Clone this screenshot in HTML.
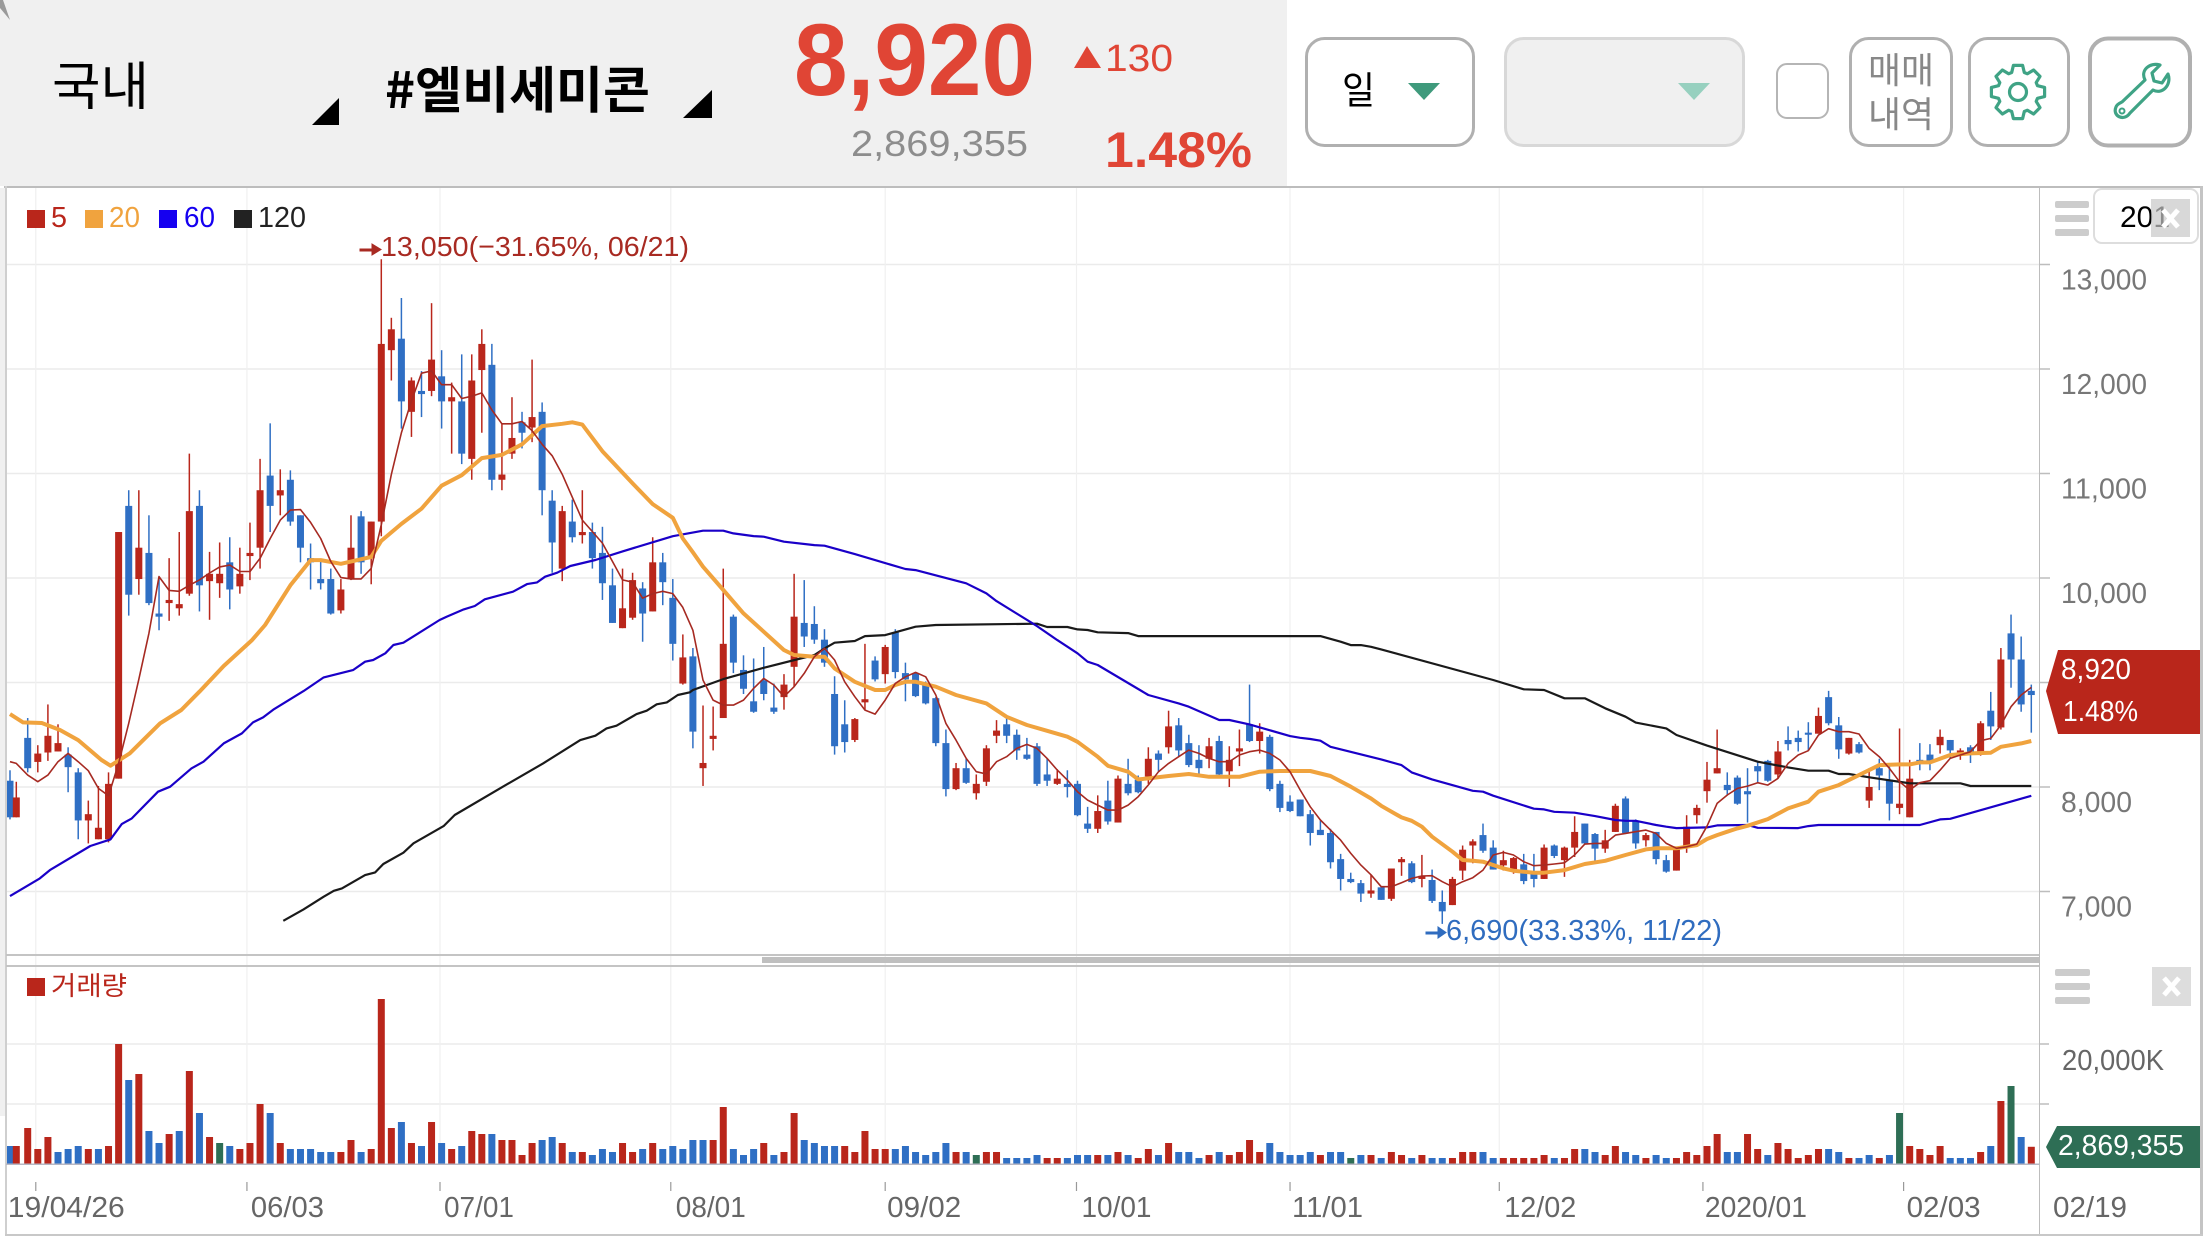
<!DOCTYPE html>
<html lang="ko">
<head>
<meta charset="utf-8">
<title>엘비세미콘 일봉 차트</title>
<style>
html,body{margin:0;padding:0;background:#fff;width:2208px;height:1242px;overflow:hidden}
svg{display:block;position:absolute;left:0;top:0}
text{font-family:"Liberation Sans","Noto Sans CJK KR",sans-serif}
.kr{font-family:"Noto Sans CJK KR","Liberation Sans",sans-serif}
</style>
</head>
<body>
<svg id="stage" xmlns="http://www.w3.org/2000/svg" width="2208" height="1242" viewBox="0 0 2208 1242">
  <rect x="0" y="0" width="2208" height="1242" fill="#ffffff"/>
  <rect x="0" y="0" width="1287" height="186" fill="#f0f0f0"/>
  <polygon points="0,0 3,0 10,20 0,8" fill="#9a9a9a"/>
  <rect x="0" y="188" width="5" height="928" fill="#f0f0f0"/>

  <text class="kr" x="52" y="105" font-size="52" fill="#000" textLength="97" lengthAdjust="spacingAndGlyphs">국내</text>
  <polygon points="339,98 339,125 312,125" fill="#000"/>
  <text class="kr" x="385" y="108" font-size="50" font-weight="700" fill="#000" textLength="265" lengthAdjust="spacingAndGlyphs">#엘비세미콘</text>
  <polygon points="712,90 712,118 683,118" fill="#000"/>
  <text x="794" y="95" font-size="102" font-weight="700" fill="#e04535" textLength="241" lengthAdjust="spacingAndGlyphs">8,920</text>
  <polygon points="1087,46 1101,68 1074,68" fill="#e04535"/>
  <text x="1105" y="71" font-size="38" fill="#e04535" textLength="68" lengthAdjust="spacingAndGlyphs">130</text>
  <text x="851" y="156" font-size="36" fill="#8d8d8d" textLength="177" lengthAdjust="spacingAndGlyphs">2,869,355</text>
  <text x="1105" y="167" font-size="50" font-weight="700" fill="#e04535" textLength="147" lengthAdjust="spacingAndGlyphs">1.48%</text>

  <rect x="1306.5" y="38.5" width="167" height="107" rx="18" fill="#fff" stroke="#b0b0b0" stroke-width="3"/>
  <text class="kr" x="1342" y="104" font-size="38" fill="#000" textLength="33" lengthAdjust="spacingAndGlyphs">일</text>
  <polygon points="1408,83 1440,83 1424,100" fill="#3f9a7c"/>
  <rect x="1505.5" y="38.5" width="238" height="107" rx="18" fill="#f0f0f0" stroke="#d8d8d8" stroke-width="3"/>
  <polygon points="1678,83 1710,83 1694,100" fill="#97d0bf"/>
  <rect x="1777" y="64" width="51" height="54" rx="10" fill="#fff" stroke="#b5b5b5" stroke-width="2"/>
  <rect x="1850.5" y="38.5" width="101" height="107" rx="18" fill="#fff" stroke="#b0b0b0" stroke-width="3"/>
  <text class="kr" x="1868" y="83" font-size="36" fill="#888" textLength="66" lengthAdjust="spacingAndGlyphs">매매</text>
  <text class="kr" x="1868" y="127" font-size="36" fill="#888" textLength="66" lengthAdjust="spacingAndGlyphs">내역</text>
  <rect x="1969.5" y="38.5" width="99" height="107" rx="18" fill="#fff" stroke="#b0b0b0" stroke-width="3"/>
  <path id="gear" fill="none" stroke="#3fa385" stroke-width="3.2" stroke-linejoin="round"/>
  <circle cx="2018" cy="92" r="8.5" fill="none" stroke="#3fa385" stroke-width="3.2"/>
  <rect x="2090" y="38.5" width="100" height="107" rx="18" fill="#fff" stroke="#b0b0b0" stroke-width="4"/>
  <path d="M2122,102 L2145,80 C2140,70 2150,62 2160,65 L2152,73 L2154,81 L2162,83 L2168,74 C2172,85 2162,95 2153,90 L2130,113 C2124,122 2112,116 2116,107 C2117,104 2120,103 2122,102 Z" fill="none" stroke="#3fa385" stroke-width="3.2" stroke-linejoin="round"/>
  <circle cx="2122" cy="111" r="2.5" fill="none" stroke="#3fa385" stroke-width="2"/>

  <g id="grid"></g>
  <g id="candles"></g>
  <polyline id="line120" fill="none" stroke="#1a1a1a" stroke-width="2.2" stroke-linejoin="round"/>
  <polyline id="line60" fill="none" stroke="#1a00c8" stroke-width="2.2" stroke-linejoin="round"/>
  <polyline id="line20" fill="none" stroke="#f0a33e" stroke-width="4" stroke-linejoin="round"/>
  <polyline id="line5" fill="none" stroke="#a62a22" stroke-width="1.6" stroke-linejoin="round"/>
  <g id="volumes"></g>

  <rect x="4" y="186" width="2198" height="2" fill="#bdbdbd"/>
  <rect x="5" y="186" width="2" height="1050" fill="#cfcfcf"/>
  <rect x="2200" y="186" width="3" height="1050" fill="#c4c4c4"/>
  <rect x="5" y="1234" width="2198" height="2" fill="#c8c8c8"/>
  <rect x="2039" y="188" width="1" height="1046" fill="#bdbdbd"/>
  <rect x="6" y="954" width="2033" height="2" fill="#c4c4c4"/>
  <rect x="6" y="965" width="2033" height="2" fill="#c4c4c4"/>
  <rect x="6" y="1163.5" width="2033" height="1.5" fill="#b8b8c4"/>
  <rect x="762" y="957" width="1277" height="6" fill="#bfbfbf"/>

  <g>
    <rect x="27" y="210" width="18" height="18" fill="#b9261b"/>
    <text x="51" y="227" font-size="29" fill="#b9261b" textLength="16" lengthAdjust="spacingAndGlyphs">5</text>
    <rect x="85" y="210" width="18" height="18" fill="#f0a33e"/>
    <text x="109" y="227" font-size="29" fill="#f0a33e" textLength="31" lengthAdjust="spacingAndGlyphs">20</text>
    <rect x="159" y="210" width="18" height="18" fill="#1500f0"/>
    <text x="184" y="227" font-size="29" fill="#1500f0" textLength="31" lengthAdjust="spacingAndGlyphs">60</text>
    <rect x="234" y="210" width="18" height="18" fill="#222"/>
    <text x="258" y="227" font-size="29" fill="#222" textLength="48" lengthAdjust="spacingAndGlyphs">120</text>
  </g>

  <path d="M360,249 H372 V244 L381,249.5 L372,255 V251 H360 Z" fill="#a82a22" stroke="#a82a22" stroke-width="1"/>
  <text x="381" y="256" font-size="28" fill="#a82a22" textLength="308" lengthAdjust="spacingAndGlyphs">13,050(−31.65%, 06/21)</text>
  <path d="M1426,932 H1438 V927 L1446,932.5 L1438,938 V934 H1426 Z" fill="#2f6cbf" stroke="#2f6cbf" stroke-width="1"/>
  <text x="1446" y="940" font-size="29" fill="#2f6cbf" textLength="276" lengthAdjust="spacingAndGlyphs">6,690(33.33%, 11/22)</text>

  <rect x="27" y="978" width="18" height="18" fill="#b9261b"/>
  <text class="kr" x="51" y="995" font-size="26" fill="#b9261b" textLength="76" lengthAdjust="spacingAndGlyphs">거래량</text>

  <g>
    <rect x="2055" y="201" width="34" height="7" rx="2" fill="#cccccc"/>
    <rect x="2055" y="215" width="34" height="7" rx="2" fill="#cccccc"/>
    <rect x="2055" y="229" width="34" height="7" rx="2" fill="#cccccc"/>
  </g>
  <rect x="2094" y="189" width="104" height="54" rx="8" fill="#fff" stroke="#dddddd" stroke-width="2"/>
  <text x="2120" y="227" font-size="30" fill="#000" textLength="50" lengthAdjust="spacingAndGlyphs">201</text>
  <g>
    <rect x="2151" y="199" width="39" height="38" fill="#c8c8c8" fill-opacity="0.7"/>
    <path d="M2163,210 L2178,227 M2178,210 L2163,227" stroke="#fff" stroke-width="5"/>
  </g>
  <g>
    <rect x="2055" y="969" width="35" height="7" rx="2" fill="#cccccc"/>
    <rect x="2055" y="983" width="35" height="7" rx="2" fill="#cccccc"/>
    <rect x="2055" y="997" width="35" height="7" rx="2" fill="#cccccc"/>
  </g>
  <g>
    <rect x="2152" y="967" width="39" height="39" fill="#dddddd"/>
    <path d="M2164,978 L2179,995 M2179,978 L2164,995" stroke="#fff" stroke-width="5"/>
  </g>

  <polygon points="2058,650 2200,650 2200,734 2058,734 2046,691" fill="#b9261b"/>
  <text x="2061" y="679" font-size="29" fill="#fff" textLength="70" lengthAdjust="spacingAndGlyphs">8,920</text>
  <text x="2063" y="721" font-size="29" fill="#fff" textLength="75" lengthAdjust="spacingAndGlyphs">1.48%</text>
  <polygon points="2057,1126 2200,1126 2200,1168 2057,1168 2046,1147" fill="#2e6e55"/>
  <text x="2058" y="1155" font-size="29" fill="#fff" textLength="126" lengthAdjust="spacingAndGlyphs">2,869,355</text>
</svg>

<script>
var opens = [
8060,7710,8470,8240,8330,8340,8310,8140,7680,7500,
7500,8080,10690,9990,10240,9660,9760,9710,9850,10690,
9970,9950,10150,9920,10210,10290,10980,10790,10940,10600,
10190,9990,9990,9690,9990,10590,10190,10540,12180,12290,
11590,11790,11790,11930,11690,11690,11140,11990,12040,10940,
11190,11490,11440,11590,10740,10090,10540,10410,10440,10240,
9930,9520,9620,9900,9680,10150,9810,8990,9250,8180,
8460,8660,9630,9120,8820,9020,8760,8860,9150,9570,
9560,9410,8890,8600,8450,8810,9210,9080,9480,9090,
9090,8980,8850,8420,7980,8180,7940,8050,8490,8600,
8500,8310,8390,8120,8030,8030,8030,7650,7600,7870,
7660,8030,8070,8100,8320,8380,8590,8420,8260,8270,
8440,8150,8340,8600,8440,8480,8030,7860,7880,7740,
7590,7560,7310,7120,7080,6980,7040,6930,7280,7270,
7120,7110,6900,6870,7200,7440,7540,7420,7250,7210,
7260,7180,7120,7440,7300,7420,7650,7550,7410,7570,
7890,7670,7490,7570,7300,7200,7430,7730,7960,8130,
8020,8090,7960,8200,8250,8120,8450,8470,8520,8510,
8860,8590,8320,8410,7870,8180,8070,7800,7710,8260,
8310,8400,8450,8300,8380,8340,8730,8570,9470,9220,
8920];
var closes = [
7710,7900,8180,8320,8490,8420,8190,7680,7740,7610,
8030,10440,9840,10290,9760,9630,9790,9750,10640,9930,
10040,10040,9890,10040,10240,10840,10690,10840,10540,10290,
10150,9950,9660,9890,10290,10150,10540,12240,12380,11690,
11890,11760,12090,11690,11730,11190,11890,12240,10940,10990,
11340,11390,11540,10840,10340,10640,10390,10440,10190,9950,
9570,9710,9980,9660,10150,9960,9370,9240,8530,8230,
8490,9370,9190,8940,8720,8890,8720,8980,9630,9440,
9410,9190,8390,8430,8650,8840,9030,9340,9100,9030,
8870,8800,8420,7980,8180,8040,8030,8370,8540,8490,
8350,8270,8030,8060,8080,8000,7730,7600,7770,7670,
8080,7940,7950,8270,8260,8580,8350,8210,8180,8390,
8120,8260,8370,8440,8530,7980,7800,7770,7720,7560,
7540,7280,7120,7090,6980,7010,6920,7220,7310,7090,
7150,6910,6810,7120,7400,7480,7390,7210,7300,7320,
7100,7120,7420,7340,7420,7570,7460,7410,7490,7820,
7560,7460,7540,7310,7190,7400,7620,7800,8070,8180,
7970,7840,7930,8150,8060,8340,8410,8430,8500,8680,
8610,8360,8470,8330,8000,8110,7840,7840,8080,8230,
8250,8480,8350,8350,8320,8610,8580,9220,9220,8790,
8880];
var highs = [
8160,8050,8660,8400,8790,8600,8380,8180,7870,8010,
8140,10440,10840,10840,10600,10010,10190,10440,11190,10840,
10250,10340,10390,10290,10530,11140,11480,11040,11030,10600,
10330,10180,10090,9990,10600,10640,10540,13050,12490,12680,
11920,11980,12630,12180,11870,12140,12140,12380,12240,11480,
11730,11590,12090,11680,10840,10690,10750,10840,10530,10490,
10090,10090,10050,9960,10390,10240,9990,9460,9330,8780,
8770,10090,9650,9260,9230,9340,8990,9080,10040,9980,
9730,9510,9060,8830,8660,9370,9250,9360,9510,9190,
9100,9010,8860,8550,8230,8270,8120,8400,8640,8670,
8550,8470,8420,8270,8170,8160,8060,7810,7920,8060,
8110,8270,8110,8380,8350,8730,8660,8500,8400,8470,
8490,8390,8550,8980,8610,8500,8060,7920,7880,7780,
7680,7600,7360,7180,7110,7160,7040,7220,7330,7290,
7350,7210,7010,7140,7440,7500,7650,7490,7390,7330,
7360,7360,7450,7450,7430,7720,7650,7560,7590,7840,
7910,7690,7560,7570,7350,7400,7730,7830,8240,8550,
8140,8110,8180,8250,8260,8440,8580,8540,8620,8760,
8920,8670,8470,8430,8180,8270,8230,8560,8260,8420,
8410,8550,8450,8370,8400,8630,8910,9330,9650,9440,
8980];
var lows = [
7690,7710,8140,8140,8250,8340,7950,7500,7460,7500,
7470,8080,9640,9840,9740,9500,9590,9640,9830,9680,
9600,9810,9700,9850,9980,10090,10440,10600,10500,10150,
9890,9890,9650,9660,9980,10040,9940,10400,11890,11430,
11350,11540,11740,11430,11190,11090,10940,11390,10840,10840,
11140,11240,11300,10600,10050,9970,10340,10330,10090,9790,
9570,9520,9600,9390,9680,9740,9210,8980,8370,8010,
8350,8660,9090,8890,8710,8830,8700,8740,8960,9340,
9370,9150,8310,8330,8430,8740,9010,8990,9040,8820,
8860,8790,8390,7910,7970,8030,7880,8010,8420,8420,
8260,8260,8010,8010,8020,7900,7720,7560,7560,7640,
7660,7920,7940,8030,8150,8320,8290,8190,8100,8180,
8100,8000,8200,8430,8320,7960,7760,7760,7720,7440,
7540,7220,7010,7080,6900,6940,6920,6910,7150,7080,
7040,6890,6690,6870,7110,7270,7370,7210,7200,7170,
7070,7040,7120,7320,7140,7330,7450,7270,7370,7570,
7550,7410,7430,7260,7180,7200,7370,7650,7850,8130,
7920,7830,7660,8040,8050,8080,8350,8340,8350,8510,
8590,8270,8310,8320,7800,7970,7680,7740,7710,8160,
8160,8320,8270,8260,8230,8300,8450,8550,8950,8720,
8520];
var ma5 = [
8242,8226,8114,8051,8114,8242,8322,8242,8156,7987,
7917,8226,8609,9030,9470,10013,9881,9873,9930,9982,
10048,10106,10123,10062,10062,10189,10378,10554,10650,10655,
10532,10378,10158,10004,9991,9991,10092,10510,10993,11389,
11696,11960,11982,11850,11850,11718,11740,11771,11608,11476,
11476,11498,11410,11279,11169,10993,10773,10554,10444,10334,
10158,9982,9960,9807,9851,9873,9851,9719,9500,9023,
8832,8784,8784,8832,8944,9039,8976,8864,8960,9087,
9247,9326,9215,9007,8864,8736,8698,8832,8991,9055,
9097,9055,8880,8609,8449,8274,8146,8124,8242,8290,
8369,8408,8369,8274,8162,8066,7955,7875,7827,7779,
7779,7827,7907,8019,8146,8226,8290,8353,8322,8274,
8242,8242,8306,8338,8353,8322,8258,8146,7971,7811,
7684,7588,7492,7365,7253,7160,7046,7046,7084,7125,
7148,7151,7094,7046,7094,7132,7205,7349,7374,7349,
7285,7247,7253,7263,7275,7349,7454,7460,7460,7540,
7556,7572,7588,7556,7460,7413,7428,7454,7625,7843,
7923,7987,8009,8041,8018,8082,8226,8306,8347,8497,
8558,8529,8529,8507,8369,8290,8178,8050,7971,8041,
8060,8162,8274,8306,8338,8443,8465,8593,8768,8880,
8953];
var ma20Idx = [
0,1.6,3.4,5.2,7,9.3,10.2,12.1,15.1,17.2,
19,21.4,24.2,25.5,28,30,31,33,36,
37,39,41,43,45,47,49,51,53,55,
56,57,59,62,64,66,67,68,69,71,
73,75,77,78,80,81,82,84,86,87,
88,89,90,92,94,97,99,101,103,105,
106,108,109,111,112,113,115,117,119,122,
124,126,129,131,133,135,136,138,139,140,
141,143,144,145,146,148,149,151,152,154,
156,158,160,162,163,165,167,168,169,170,
171,172,174,176,178,179,181,183,185,187,
188,189,190,192,194,196,197,199,200];
var ma20 = [
8698,8618,8612,8545,8449,8258,8204,8322,8609,8737,
8912,9158,9406,9550,9930,10171,10171,10136,10202,
10356,10518,10663,10883,10984,11147,11178,11279,11454,11476,
11490,11468,11213,10905,10707,10576,10378,10246,10108,9885,
9661,9486,9310,9263,9247,9247,9135,9007,8928,8928,
8976,9007,9007,8960,8880,8800,8672,8593,8538,8481,
8433,8290,8203,8146,8073,8082,8105,8124,8098,8098,
8146,8153,8153,8105,8003,7890,7820,7709,7677,7620,
7524,7381,7301,7294,7285,7221,7199,7180,7180,7205,
7263,7294,7349,7403,7413,7413,7444,7502,7540,7572,
7604,7629,7693,7795,7859,7955,8018,8114,8210,8216,
8216,8235,8235,8306,8322,8328,8385,8417,8440];
var ma60Idx = [
0,3.2,4.2,8.2,10.2,11.3,12.3,14.9,16.1,18.2,
19.4,21.4,23.2,24.3,25.3,26.3,29.3,31.3,34.2,35.4,
36.2,37.4,38.2,39.2,42.8,43.5,45.2,46.3,47.3,50.1,
51.5,52.5,53.3,54.5,55.8,58.3,61,66,69,71,72,74,75,77,
80,81,84,89,90,95,97,98,102,104,
106,107,108,113,116,117,120,121,123,127,
128,129,130,131,136,138,139,141,145,146,
147,151,152,153,155,157,159,160,161,163,
164,165,168,169,172,173,177,178,179,189,
191,192,200];
var ma60 = [
6956,7125,7205,7435,7499,7645,7700,7955,8003,8178,
8242,8417,8513,8618,8666,8740,8918,9049,9119,9199,
9215,9279,9359,9381,9598,9630,9700,9732,9796,9869,
9942,9958,10012,10051,10115,10172,10255,10400,10453,10453,10427,10401,10395,10347,
10315,10309,10229,10086,10076,9949,9853,9779,9540,9406,
9279,9199,9167,8880,8800,8768,8641,8641,8599,8487,
8471,8459,8443,8385,8264,8210,8140,8073,7964,7955,
7917,7792,7786,7763,7754,7722,7684,7677,7677,7636,
7620,7607,7613,7633,7636,7610,7607,7626,7636,7636,
7690,7696,7916];
var ma120Idx = [
27.3,29.3,31.3,32.3,33.1,35.4,36.4,37.2,39.2,40.2,
43.2,44.3,49.1,53.1,56.8,58.3,59.4,60.4,62.4,63.4,
64.4,65.4,66.5,67.7,68,71,75,80,81,
82,84,85,87,88,90,92,102,103,105,
106,107,108,111,112,130,132,133,134,135,
136,147,150,152,154,156,158,160,161,164,
165,168,173,176,178,180,181,182,184,188,
193,194,200];
var ma120 = [
6720,6829,6950,7007,7030,7157,7183,7263,7371,7461,
7626,7732,8003,8226,8449,8491,8561,8587,8698,8730,
8791,8810,8880,8906,8928,9033,9141,9263,9326,
9381,9397,9444,9454,9480,9534,9550,9563,9531,9531,
9508,9502,9480,9473,9444,9444,9390,9358,9358,9342,
9317,9024,8935,8928,8849,8849,8753,8673,8616,8561,
8498,8396,8242,8188,8156,8156,8124,8124,8093,8035,
8035,8010,8010];
var volumes = [
3000,3000,6000,2500,4500,2000,2500,3000,2500,2500,
3000,20000,14000,15000,5500,3500,5000,5500,15500,8500,
4500,3500,3000,2500,3500,10000,8500,3500,2500,2500,
2500,2000,2000,2000,4000,2000,2500,27500,6000,7000,
3500,3000,7000,3500,2500,3000,5500,5000,5000,4000,
4000,1500,3500,4000,4500,3500,2000,2000,1500,2500,
2000,3500,2000,2500,3500,2500,3000,2500,4000,4000,
4000,9500,2500,1500,2500,3500,1500,2000,8500,4000,
3500,3000,3000,3000,2000,5500,2500,2500,2500,3000,
2000,1500,2000,3500,2000,2000,1500,2000,2000,1000,
1000,1000,1500,1000,1000,1000,1500,1500,1500,1500,
2000,1500,1000,2500,1500,3500,2000,2000,1000,1500,
2000,1500,2000,4000,2000,3500,2000,1500,1500,2000,
1500,2000,2000,1000,1500,1500,1000,2000,1500,1000,
1500,1000,1000,1000,2000,2000,2000,1000,1000,1000,
1000,1000,1500,1000,1000,2500,2500,2000,1500,3000,
2000,1500,1000,1500,1000,1000,2000,1500,3000,5000,
2000,2000,5000,2500,1500,3500,2500,1000,1500,2500,
2500,2000,1000,1000,1500,1000,1500,8500,3000,2500,
1500,3000,1000,1000,1000,2000,3000,10500,13000,4500,
2869];
var volumeKinds = (
'brrrrbbbrb'+'rrbrbbrbrb'+'rgbrrrbrbb'+'bbbrrbrrrb'+'rbrbrbrrbr'+
'rrrbbrbrbb'+'brrbrbbbbb'+'rrbbbrbrrb'+'bbbrrrrrbb'+'bbbbrbgrrb'+
'bbbrrbbbrb'+'rbrrbrbbbr'+'brrrrbbbbb'+'rbbgbrbrrb'+'rbbrrrbbrr'+
'rrrbrrbbrr'+'bbrbbrrrrr'+'bbrrbrrrrr'+'bbrbbrbgrr'+'rrbbbrbrgb'+
'r').split('');

var priceTicks = [13000,12000,11000,10000,9000,8000,7000];
var volumeGridTicks = [20000,10000];
var volumeTickLabels = ['20,000K',''];
var dateLabels = ['19/04/26','06/03','07/01','08/01','09/02','10/01','11/01','12/02','2020/01','02/03'];
var dateTickIdx = [2.8,23.7,42.84,65.8,87,105.9,127,147.6,167.6,187.4];
var dateLabelOffsets = [-28,4,4,5,2,5,2,5,2,3];
var dateLabelWidths = [117,73,70,70,74,70,71,72,102,74];
var lastDateLabel = '02/19';

var NS = 'http://www.w3.org/2000/svg';

function xC(i){
  var dom = [0,1,2,37,68,135,168,200];
  var rng = [10,16.3,27.7,381.3,692.9,1371,1707,2031.3];
  for (var k = 0; k < dom.length - 1; k++) {
    if (i <= dom[k + 1]) {
      return rng[k] + (i - dom[k]) * (rng[k + 1] - rng[k]) / (dom[k + 1] - dom[k]);
    }
  }
  return rng[rng.length - 1];
}
function yP(v){ return 891.5 - (v - 7000) * 0.1045; }
function yV(v){ return 1164 - v * 0.006; }

function mk(tag, attrs, parent){
  var el = document.createElementNS(NS, tag);
  for (var a in attrs) el.setAttribute(a, attrs[a]);
  parent.appendChild(el);
  return el;
}

var gridG = document.getElementById('grid');
var candleG = document.getElementById('candles');
var volG = document.getElementById('volumes');

priceTicks.forEach(function(v){
  var y = yP(v);
  var txt = v.toLocaleString('en-US');
  var line = mk('line', {x1:6, x2:2039, y1:y, y2:y, stroke:'#ebebeb', 'stroke-width':1.5}, gridG);
  
  
  var tick = mk('line', {x1:2039, x2:2050, y1:y, y2:y, stroke:'#bdbdbd', 'stroke-width':1.5}, gridG);
  
  
  var label = mk('text', {x:2061, y:y + 25, 'font-size':29, fill:'#777777', textLength:(txt.length > 5 ? 86 : 71), lengthAdjust:'spacingAndGlyphs'}, gridG);
  
  
  label.textContent = txt;
});

volumeGridTicks.forEach(function(v, n){
  var y = yV(v);
  var line = mk('line', {x1:6, x2:2039, y1:y, y2:y, stroke:'#ebebeb', 'stroke-width':1.5}, gridG);
  
  
  var tick = mk('line', {x1:2039, x2:2049, y1:y, y2:y, stroke:'#bdbdbd', 'stroke-width':1.5}, gridG);
  
  
  if (volumeTickLabels[n]) {
    var label = mk('text', {x:2062, y:y + 26, 'font-size':29, fill:'#666666', textLength:102, lengthAdjust:'spacingAndGlyphs'}, gridG);
    
    
    label.textContent = volumeTickLabels[n];
  }
});

dateLabels.forEach(function(d, n){
  var x = xC(dateTickIdx[n]);
  var v = mk('line', {x1:x, x2:x, y1:188, y2:1164, stroke:'#f0f0f0', 'stroke-width':1.2}, gridG);
  
  
  var t = mk('line', {x1:x, x2:x, y1:1182, y2:1191, stroke:'#999999', 'stroke-width':1.2}, gridG);
  
  
  var label = mk('text', {x:x + dateLabelOffsets[n], y:1217, 'font-size':29, fill:'#666666', textLength:dateLabelWidths[n], lengthAdjust:'spacingAndGlyphs'}, gridG);
  
  
  label.textContent = d;
});
var lastLabel = mk('text', {x:2053, y:1217, 'font-size':29, fill:'#666666', textLength:74, lengthAdjust:'spacingAndGlyphs'}, gridG);


lastLabel.textContent = lastDateLabel;

var RED = '#b9261b', BLUE = '#2f6fc4', GREEN = '#2e6e55';

opens.forEach(function(o, i){
  var c = closes[i];
  var col = c >= o ? RED : BLUE;
  var x = xC(i);
  var wick = mk('line', {x1:x, x2:x, y1:yP(highs[i]), y2:yP(lows[i]), stroke:col, 'stroke-width':1.5}, candleG);
  
  
  var top = yP(Math.max(o, c));
  var bot = yP(Math.min(o, c));
  var body = mk('rect', {x:x - 3.5, y:top, width:7, height:Math.max(bot - top, 1.5), fill:col}, candleG);
  
  
});

volumes.forEach(function(v, i){
  var k = volumeKinds[i];
  var col = k === 'r' ? RED : (k === 'g' ? GREEN : BLUE);
  var y = yV(v);
  var bar = mk('rect', {x:xC(i) - 3.5, y:y, width:7, height:1164 - y, fill:col}, volG);
  
  
});

function points(idx, vals){
  return vals.map(function(v, n){
    return xC(idx ? idx[n] : n).toFixed(1) + ',' + yP(v).toFixed(1);
  }).join(' ');
}
document.getElementById('line5').setAttribute('points', points(null, ma5));
document.getElementById('line20').setAttribute('points', points(ma20Idx, ma20));
document.getElementById('line60').setAttribute('points', points(ma60Idx, ma60));
document.getElementById('line120').setAttribute('points', points(ma120Idx, ma120));

(function(){
  var cx = 2018, cy = 92, teeth = 8, out = 27, inn = 20.5, d = '';
  for (var t = 0; t < teeth; t++) {
    var a = t * 2 * Math.PI / teeth - Math.PI / 2;
    var w1 = 0.25, w2 = 0.17;
    var pts = [[inn, a - w1 - 0.06], [out, a - w2], [out, a + w2], [inn, a + w1 + 0.06]];
    pts.forEach(function(p, n){
      var px = cx + p[0] * Math.cos(p[1]);
      var py = cy + p[0] * Math.sin(p[1]);
      d += ((t === 0 && n === 0) ? 'M' : 'L') + px.toFixed(1) + ',' + py.toFixed(1) + ' ';
    });
  }
  document.getElementById('gear').setAttribute('d', d + 'Z');
})();
</script>
</body>
</html>
